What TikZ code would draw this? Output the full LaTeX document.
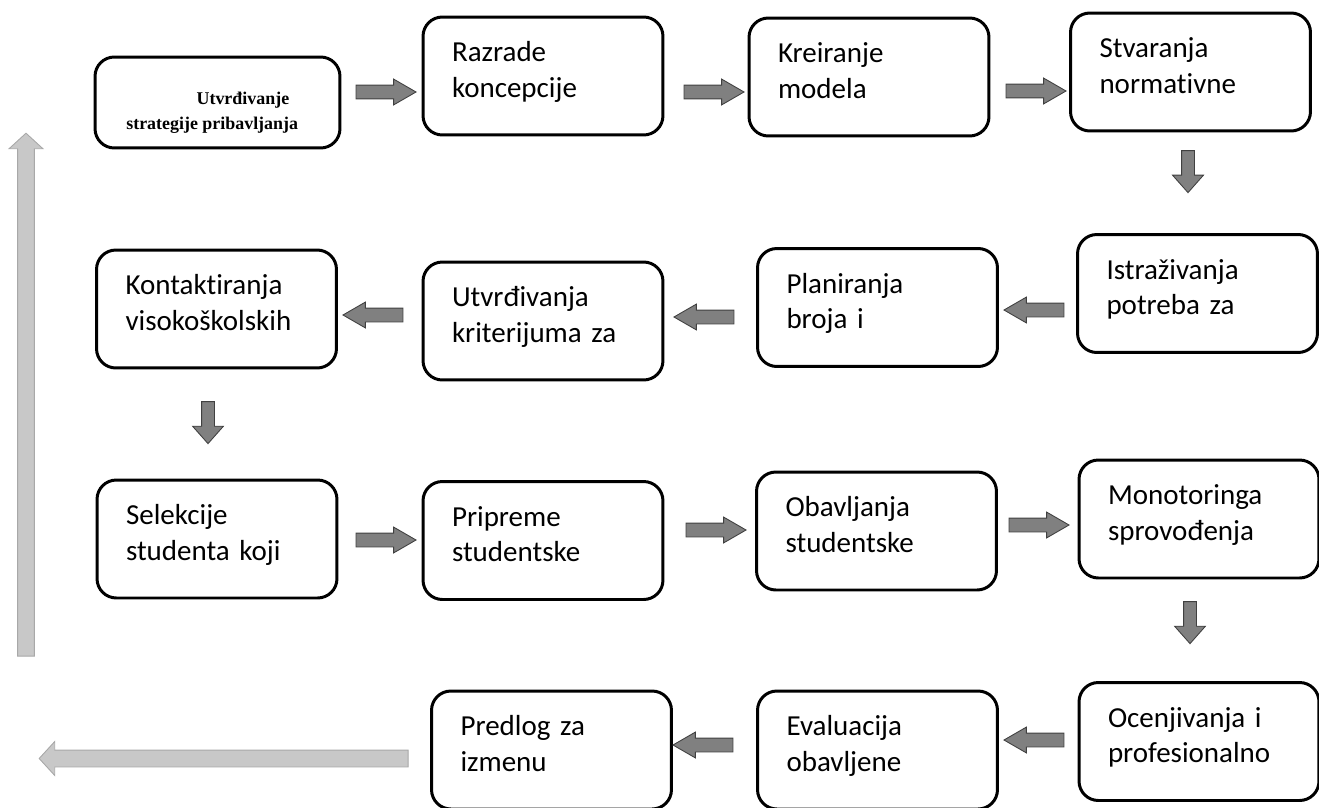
\documentclass[tikz,border=0pt]{standalone}
\usepackage{fontspec}
\setmainfont{Carlito}[Ligatures=NoCommon]
\newfontfamily\serifbold{Liberation Serif}
\usetikzlibrary{positioning,calc,shapes.arrows}
\definecolor{ArrowFill}{RGB}{128,128,128}
\definecolor{ArrowEdge}{RGB}{64,64,64}
\definecolor{BackFill}{RGB}{200,200,200}
\definecolor{BackEdge}{RGB}{168,168,168}
\tikzset{
  stagebox/.style={draw=black,line width=1.7pt,rounded corners=11pt,fill=white,
    minimum height=2.36cm,inner xsep=0.58cm,inner ysep=0pt,text width=3.64cm,
    text height=8pt,text depth=24pt,
    align=left,font=\fontsize{16.5}{20}\selectfont},
  stepright/.style={single arrow,draw=ArrowEdge,fill=ArrowFill,line width=0.5pt,
    inner xsep=0pt,inner ysep=0.13cm,minimum height=1.2cm,
    single arrow head extend=0.12cm,single arrow tip angle=60},
  stepleft/.style={stepright,rotate=180},
  stepdown/.style={stepright,rotate=-90,minimum height=0.84cm,inner ysep=0.12cm,
    single arrow head extend=0.18cm,single arrow tip angle=83},
  backarrow/.style={single arrow,draw=BackEdge,fill=BackFill,line width=0.5pt,
    inner xsep=0pt,inner ysep=0.16cm,single arrow head extend=0.17cm,
    single arrow tip angle=95}
}
\begin{document}
\begin{tikzpicture}[x=0.02cm,y=-0.02cm]
  \useasboundingbox (0,0) rectangle (1319,808);
  % row 1
  \node[stagebox,minimum height=1.82cm,text width=3.74cm] (b1) at (217.5,102.5) {};
  \node[anchor=north west,inner sep=0pt,align=left,
    font=\serifbold\bfseries\fontsize{10.2}{14.2}\selectfont] (b1text) at (126,92)
    {\hspace*{40pt}Utvrđivanje\\strategije pribavljanja};
  \node[stagebox] (b2) at (543,76) {Razrade\\koncepcije};
  \node[stagebox] (b3) at (869,77) {Kreiranje\\modela};
  \node[stagebox] (b4) at (1190.5,72) {Stvaranja\\normativne};
  \node[stepright] (a1) at (380,92) {};
  \node[stepright] (a2) at (708,92) {};
  \node[stepright] (a3) at (1030,91) {};
  \node[stepdown] (a4) at (1188,168) {};
  % row 2
  \node[stagebox] (b5) at (216.5,309) {Kontaktiranja\\visokoškolskih};
  \node[stagebox] (b6) at (543,321) {Utvrđivanja\\kriterijuma za};
  \node[stagebox] (b7) at (877.5,307.5) {Planiranja\\broja i};
  \node[stagebox] (b8) at (1197.5,293.5) {Istraživanja\\potreba za};
  \node[stepleft] (a5) at (1040,310) {};
  \node[stepleft] (a6) at (710,317) {};
  \node[stepleft] (a7) at (379,315) {};
  \node[stepdown] (a8) at (208,419) {};
  % row 3
  \node[stagebox] (b9) at (217,539) {Selekcije\\studenta koji};
  \node[stagebox] (b10) at (543,540.5) {Pripreme\\studentske};
  \node[stagebox] (b11) at (876.5,531) {Obavljanja\\studentske};
  \node[stagebox] (b12) at (1199,519) {Monotoringa\\sprovođenja};
  \node[stepright] (a9) at (380,540) {};
  \node[stepright] (a10) at (710,530) {};
  \node[stepright] (a11) at (1033,525) {};
  \node[stepdown] (a12) at (1190,619) {};
  % row 4
  \node[stagebox] (b13) at (551.5,750) {Predlog za\\izmenu};
  \node[stagebox] (b14) at (877.5,750) {Evaluacija\\obavljene};
  \node[stagebox] (b15) at (1199,741.5) {Ocenjivanja i\\profesionalno};
  \node[stepleft] (a13) at (1040,740) {};
  \node[stepleft] (a14) at (709,745) {};
  % return arrows
  \node[backarrow,rotate=180,minimum height=7.38cm] (backleft) at (227.5,758.5) {};
  \node[backarrow,rotate=90,minimum height=10.46cm] (backup) at (26,398.5) {};
\end{tikzpicture}
\end{document}
